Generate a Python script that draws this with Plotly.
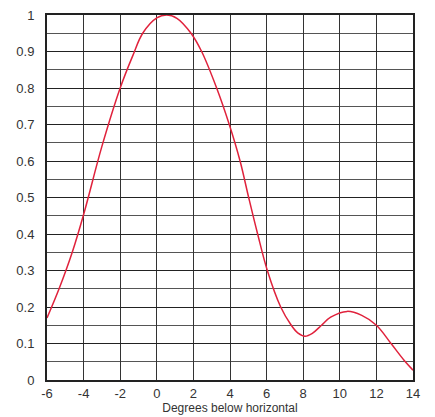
import plotly.graph_objects as go

# Data
angle_deg = [-6, -5.34, -4.62, -3.98, -3.0, -2.0, -1.3, -0.77, 0, 0.54,
             1.1, 1.87, 2.45, 3.27, 3.96, 4.55, 5.02, 5.51, 6.04, 6.77,
             7.32, 7.7, 8.1, 8.5, 9.0, 9.5, 10.4, 11.2, 12.0, 12.8, 13.5, 14.0]
response = [0.17, 0.25, 0.35, 0.457, 0.64, 0.80, 0.89, 0.95, 0.992, 1.0,
            0.991, 0.95, 0.90, 0.80, 0.70, 0.60, 0.50, 0.40, 0.30, 0.20,
            0.152, 0.129, 0.12, 0.128, 0.15, 0.172, 0.188, 0.177, 0.15, 0.10, 0.055, 0.027]

x_ticks = [-6, -4, -2, 0, 2, 4, 6, 8, 10, 12, 14]
y_ticks = [0, 0.1, 0.2, 0.3, 0.4, 0.5, 0.6, 0.7, 0.8, 0.9, 1]
y_labels = ["0", "0.1", "0.2", "0.3", "0.4", "0.5", "0.6", "0.7", "0.8", "0.9", "1"]

fig = go.Figure()
fig.add_trace(go.Scatter(
    x=angle_deg, y=response, mode="lines",
    line=dict(color="#e0223c", width=1.5, shape="spline", smoothing=1.0),
    hoverinfo="skip", showlegend=False,
))

font = dict(family="Liberation Sans, Arial, sans-serif", size=13, color="#333")

fig.update_layout(
    width=435, height=417,
    margin=dict(l=47, r=22, t=15, b=37),
    paper_bgcolor="white", plot_bgcolor="white",
    font=font,
    xaxis=dict(
        range=[-6, 14], tickvals=x_ticks, ticktext=[str(v) for v in x_ticks],
        showgrid=True, gridcolor="#333", gridwidth=1,
        showline=True, linecolor="#222", linewidth=2, mirror=True,
        zeroline=False, ticks="", ticklabelstandoff=0, automargin=False,
        title=dict(text="Degrees below horizontal", standoff=0,
                   font=dict(family="Liberation Sans, Arial, sans-serif", size=12, color="#333")),
    ),
    yaxis=dict(
        range=[0, 1], tickvals=y_ticks, ticktext=y_labels,
        showgrid=True, gridcolor="#222", gridwidth=1,
        minor=dict(dtick=0.05, tick0=0, showgrid=True, gridcolor="#555", gridwidth=1),
        showline=True, linecolor="#222", linewidth=2, mirror=True,
        zeroline=False, ticks="", ticklabelstandoff=8, automargin=False,
    ),
)

fig.write_html("out.html", config={"displayModeBar": False},
               post_script="document.body.style.margin='0';document.body.style.padding='0';")
